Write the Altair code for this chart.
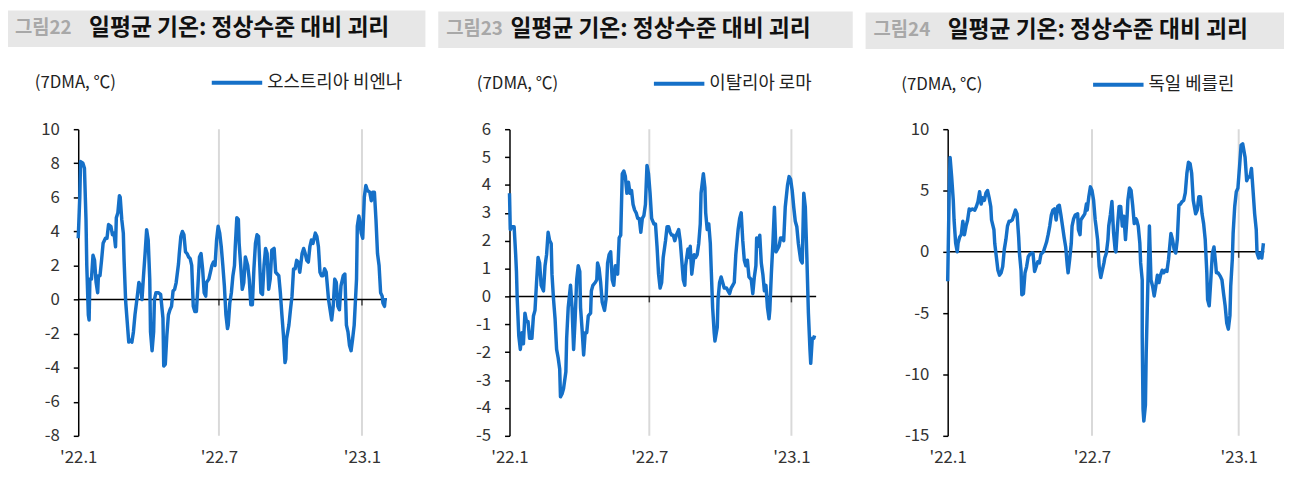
import altair as alt
import pandas as pd

FONT = "Noto Sans CJK KR"
BLUE = "#1570C8"

# ---------------- data (day offset from 2022-01-01, 7DMA anomaly in °C) ----------------
days_vienna = [0, 2, 3, 6, 8, 10, 11, 13, 14, 15, 17, 19, 21, 23, 25, 26, 28, 30, 32, 35, 37, 39, 42, 44,
               46, 48, 49, 51, 53, 54, 56, 58, 59, 61, 63, 65, 67, 69, 71, 73, 76, 78, 80, 82, 84, 86, 88,
               90, 92, 93, 95, 97, 98, 100, 103, 106, 109, 110, 112, 114, 116, 118, 120, 122, 124, 126, 129,
               130, 132, 134, 136, 138, 140, 142, 144, 146, 148, 150, 152, 154, 156, 158, 160, 162, 164, 165,
               168, 170, 172, 174, 176, 178, 180, 182, 184, 186, 188, 190, 192, 193, 195, 197, 199, 201, 202,
               204, 206, 207, 209, 211, 213, 215, 218, 220, 222, 224, 226, 228, 230, 232, 235, 237, 239, 241,
               243, 245, 247, 249, 252, 254, 256, 258, 260, 262, 264, 266, 267, 268, 271, 273, 275, 277, 279,
               281, 283, 285, 288, 290, 292, 294, 296, 298, 300, 302, 305, 307, 309, 311, 313, 315, 317, 319,
               322, 324, 326, 328, 330, 332, 334, 336, 338, 341, 343, 345, 347, 349, 351, 353, 355, 358, 359,
               361, 362, 364, 366, 368, 370, 372, 375, 377, 379, 381, 383, 385, 387, 389, 391, 392, 394, 395]
vals_vienna = [3.6, 6.0, 8.1, 8.0, 7.7, 4.7, 2.0, -0.9, -1.2, 1.2, 1.2, 2.6, 2.3, 1.0, 0.4, 1.4, 1.4, 2.3,
               3.3, 3.6, 3.6, 4.4, 4.3, 3.8, 3.9, 3.1, 4.8, 5.1, 6.1, 6.0, 4.7, 3.9, 2.3, -0.1, -1.3, -2.5,
               -2.4, -2.5, -1.9, -0.9, 0.2, 1.0, 0.8, 0.0, 1.4, 2.7, 4.1, 3.5, 1.2, -1.9, -3.0, -1.9, 0.0,
               0.4, 0.4, 0.3, -1.1, -3.9, -3.8, -2.1, -0.9, -0.6, -0.4, 0.5, 0.6, 1.0, 2.1, 2.7, 3.7, 4.0,
               3.8, 2.8, 2.7, 2.5, 2.4, 2.0, -0.4, -0.7, -0.7, 0.8, 2.5, 2.7, 1.8, 0.4, 0.2, 1.0, 1.2, 1.6,
               2.0, 2.2, 2.0, 3.5, 4.3, 3.9, 3.1, 2.0, 0.8, -0.9, -1.7, -1.5, -0.2, 0.4, 1.4, 2.0, 3.1, 4.8,
               4.7, 3.3, 2.0, 0.6, 1.0, 2.5, 2.0, 1.2, -0.3, -0.3, 1.8, 3.3, 3.8, 3.7, 0.4, 0.3, 2.0, 3.0,
               2.7, 0.6, 1.2, 2.9, 3.0, 1.6, 1.5, 1.4, 0.4, -0.9, -2.1, -3.7, -3.5, -2.3, -1.5, -0.6, 0.2,
               1.8, 1.8, 2.3, 2.2, 1.6, 2.7, 3.0, 2.7, 2.3, 2.2, 3.1, 3.5, 3.3, 3.9, 3.7, 3.1, 1.6, 1.4, 1.4,
               1.8, 1.6, 0.0, -0.6, -1.2, -0.4, 1.2, 1.0, -0.4, -0.6, 0.8, 1.4, 1.5, -1.5, -1.9, -2.7, -3.0,
               -2.3, -1.5, 1.2, 4.3, 4.9, 4.7, 3.9, 3.6, 6.0, 6.7, 6.4, 6.3, 5.8, 6.3, 6.3, 4.7, 2.7, 2.0,
               0.4, 0.2, -0.2, -0.4, 0.1]

days_rome = [0, 1, 3, 6, 8, 9, 10, 12, 14, 16, 18, 20, 22, 24, 26, 29, 31, 33, 35, 37, 39, 41, 44, 46, 48,
             50, 52, 54, 55, 57, 59, 61, 63, 65, 66, 68, 70, 73, 74, 76, 79, 81, 83, 85, 87, 89, 91, 92, 94,
             96, 98, 100, 102, 105, 106, 108, 111, 113, 114, 116, 118, 120, 123, 125, 127, 129, 131, 133, 135,
             137, 140, 142, 144, 146, 148, 150, 152, 154, 156, 158, 160, 162, 164, 166, 168, 170, 172, 174,
             176, 178, 180, 182, 184, 187, 189, 191, 193, 195, 197, 199, 202, 204, 206, 208, 210, 212, 214,
             216, 219, 221, 223, 225, 227, 228, 231, 233, 234, 236, 239, 241, 243, 245, 247, 248, 251, 253,
             254, 256, 258, 260, 261, 263, 265, 266, 269, 270, 272, 274, 276, 278, 281, 283, 285, 287, 289,
             291, 293, 296, 298, 300, 302, 304, 306, 308, 310, 313, 315, 317, 319, 320, 322, 324, 326, 328,
             330, 332, 334, 336, 337, 339, 341, 343, 345, 347, 349, 351, 353, 355, 357, 360, 362, 364, 366,
             368, 370, 372, 374, 377, 379, 381, 383, 385, 387, 389, 390, 392, 394, 395]
vals_rome = [3.7, 2.4, 2.5, 2.5, 1.5, 0.9, -0.1, -1.4, -1.9, -1.3, -1.7, -0.6, -0.9, -0.9, -1.5, -1.5, -0.7,
             -0.5, 0.5, 1.4, 1.2, 0.4, 0.2, 1.1, 1.5, 2.3, 2.0, 1.9, 0.8, -0.1, -0.8, -1.9, -2.2, -2.6, -3.6,
             -3.5, -3.3, -2.7, -1.5, -0.4, 0.4, -0.4, -1.9, -0.8, 0.6, 1.1, 0.9, -0.4, -1.2, -2.1, -1.3, -1.3,
             -0.7, -0.6, 0.2, 0.4, 0.5, 0.6, 1.2, 1.0, 0.5, -0.2, -0.5, -0.1, 1.2, 1.5, 1.6, 0.6, 0.4, 1.1,
             0.8, 2.1, 2.2, 4.4, 4.5, 4.3, 3.7, 4.1, 3.7, 3.8, 3.3, 3.1, 3.0, 2.8, 2.8, 2.3, 2.8, 2.9, 3.3,
             4.7, 4.4, 3.7, 2.8, 2.6, 2.6, 1.8, 0.8, 0.3, 0.5, 1.4, 2.0, 2.5, 2.5, 2.3, 2.2, 2.2, 2.0, 2.2,
             2.4, 2.0, 1.3, 0.6, 0.4, 1.1, 1.7, 1.4, 1.8, 0.8, 1.5, 1.4, 1.5, 1.9, 2.6, 3.7, 4.4, 3.9, 3.0,
             2.4, 2.6, 1.9, 1.1, -0.4, -1.3, -1.6, -1.1, -0.1, 0.5, 0.7, 0.5, 0.3, 0.3, 0.2, 0.1, 0.3, 0.4,
             0.5, 1.5, 2.4, 2.8, 3.0, 2.0, 1.3, 1.1, 1.3, 0.7, 0.6, 0.1, 0.7, 1.1, 2.1, 1.8, 2.2, 1.2, 0.8,
             0.2, 0.4, -0.4, -0.8, -0.5, 0.8, 1.9, 3.2, 1.6, 1.7, 1.8, 2.1, 2.1, 2.0, 3.2, 4.0, 4.3, 4.2,
             3.8, 3.2, 2.7, 2.5, 1.9, 1.3, 1.2, 3.7, 3.2, 1.4, -0.6, -1.9, -2.4, -1.5, -1.5, -1.4]

days_berlin = [0, 2, 3, 5, 7, 8, 10, 12, 13, 15, 17, 19, 21, 23, 25, 27, 29, 31, 34, 36, 38, 40, 42, 44, 46,
               48, 50, 52, 54, 55, 58, 59, 61, 63, 65, 67, 69, 71, 73, 75, 77, 79, 81, 83, 85, 87, 89, 90, 92,
               93, 95, 97, 99, 101, 103, 105, 107, 109, 111, 113, 115, 117, 120, 122, 124, 126, 128, 130, 132,
               134, 136, 138, 140, 142, 144, 146, 148, 150, 151, 153, 155, 156, 158, 160, 163, 164, 166, 167,
               170, 172, 174, 175, 177, 179, 181, 183, 185, 186, 188, 190, 192, 194, 196, 197, 199, 201, 202,
               204, 206, 208, 210, 211, 213, 215, 217, 219, 221, 223, 225, 226, 228, 230, 232, 234, 236, 237,
               239, 241, 242, 244, 244, 245, 246, 248, 249, 251, 253, 255, 257, 259, 261, 263, 265, 267, 269,
               271, 273, 275, 277, 280, 282, 284, 286, 288, 290, 292, 294, 296, 298, 300, 302, 304, 306, 308,
               311, 313, 315, 317, 319, 321, 323, 325, 326, 328, 330, 332, 334, 336, 337, 339, 342, 344, 346,
               348, 350, 352, 354, 355, 357, 358, 360, 362, 364, 366, 368, 370, 373, 375, 377, 379, 381, 383,
               385, 387, 388, 390, 392, 394, 396]
vals_berlin = [-2.4, 5.3, 7.7, 6.1, 4.2, 2.6, 0.7, 0.0, 0.7, 1.2, 1.4, 2.5, 1.4, 2.1, 2.6, 3.5, 3.4, 3.5, 3.4,
               3.7, 4.1, 4.9, 3.9, 4.4, 4.2, 4.8, 5.0, 4.4, 3.7, 2.6, 1.8, 0.7, -0.4, -1.5, -1.9, -1.7, -1.2,
               0.2, 1.0, 2.1, 2.5, 2.5, 2.6, 3.0, 3.4, 3.1, 1.2, -0.1, -1.5, -3.5, -3.4, -1.7, -1.2, -0.4,
               -0.2, -0.1, -0.1, -1.6, -1.2, -0.8, -0.9, -0.2, 0.0, 0.4, 0.8, 1.4, 2.1, 3.0, 3.4, 3.5, 2.6,
               3.7, 3.8, 3.0, 2.1, 1.2, 0.4, -1.1, -1.7, -0.6, 0.7, 2.1, 2.7, 3.0, 3.1, 1.8, 1.4, 2.6, 2.9,
               3.1, 3.9, 3.4, 4.5, 5.3, 5.0, 4.2, 2.6, 2.1, 1.0, -1.2, -2.1, -1.5, -0.9, -0.5, -0.1, 1.0, 2.1,
               3.0, 4.1, 1.6, 0.2, 0.0, 2.1, 3.7, 3.7, 2.1, 2.9, 1.0, 2.9, 4.2, 5.2, 5.0, 3.8, 2.3, 2.7, 2.6,
               2.1, 0.7, -0.9, -2.3, -6.9, -12.8, -13.8, -12.5, -8.2, -2.8, 2.1, -2.3, -2.8, -3.6, -2.8,
               -1.9, -2.5, -1.9, -1.5, -1.7, -1.5, -1.6, -0.6, 1.5, 1.0, 0.2, -0.1, 1.0, 3.8, 3.9, 4.1, 4.2,
               4.8, 6.4, 7.3, 7.2, 6.4, 4.2, 3.1, 3.4, 4.5, 4.5, 3.1, 2.3, 1.0, -1.7, -3.9, -4.4, -2.3, -0.1,
               0.4, -0.9, -1.7, -1.7, -2.0, -2.3, -3.4, -4.4, -5.8, -6.3, -5.2, -2.8, -0.6, 1.5, 3.7, 4.9,
               5.2, 6.9, 8.7, 8.8, 7.7, 5.8, 6.1, 6.1, 6.8, 5.0, 3.1, 1.8, -0.1, -0.5, -0.1, -0.5, 0.7]

fig_numbers = ["그림22", "그림23", "그림24"]
fig_title = "일평균 기온: 정상수준 대비 괴리"
unit_label = "(7DMA, ℃)"
series_names = ["오스트리아 비엔나", "이탈리아 로마", "독일 베를린"]
x_tick_dates = ["2022-01-01", "2022-07-01", "2023-01-01"]
y_ticks = [[10, 8, 6, 4, 2, 0, -2, -4, -6, -8],
           [6, 5, 4, 3, 2, 1, 0, -1, -2, -3, -4, -5],
           [10, 5, 0, -5, -10, -15]]
y_domains = [[-8, 10], [-5, 6], [-15, 10]]

base_date = pd.Timestamp("2022-01-01")
one = pd.DataFrame({"k": [0]})


def to_frame(days, vals):
    return pd.DataFrame({
        "date": [(base_date + pd.Timedelta(days=int(d))).strftime("%Y-%m-%d") for d in days],
        "v": vals,
    })


def panel(days, vals, idx, width, lay):
    df = to_frame(days, vals)
    x_dom = [alt.DateTime(year=2022, month=1, date=1), alt.DateTime(year=2023, month=2, date=2)]
    xscale = alt.Scale(domain=x_dom)
    yscale = alt.Scale(domain=y_domains[idx], nice=False, zero=False)
    grid_df = pd.DataFrame({"date": x_tick_dates[1:], "v": [0, 0]})
    zero_df = pd.DataFrame({"v": [0]})

    x_axis = alt.Axis(values=[alt.DateTime(year=2022, month=1, date=1),
                              alt.DateTime(year=2022, month=7, date=1),
                              alt.DateTime(year=2023, month=1, date=1)],
                      labelExpr="\"'\" + timeFormat(datum.value, '%y.%-m')",
                      domain=False, ticks=False, grid=False, labelFlush=False,
                      labelOverlap=False, labelFont=FONT, labelFontSize=17,
                      labelColor="#333333", labelPadding=14, title=None)
    y_axis = alt.Axis(values=y_ticks[idx], grid=False, domainColor="black",
                      domainWidth=1.5, tickColor="black", tickWidth=1.5, tickSize=5,
                      labelPadding=14, labelFont=FONT, labelFontSize=17,
                      labelExpr="'' + datum.value",
                      labelColor="#333333", labelOverlap=False, title=None)
    X = alt.X("date:T", scale=xscale, axis=x_axis, title=None)
    Y = alt.Y("v:Q", scale=yscale, axis=y_axis, title=None)

    header = alt.Chart(one).mark_rect(color="#e7e7e7").encode(
        x=alt.value(lay["hx"]), x2=alt.value(lay["hx2"]),
        y=alt.value(lay["hy"]), y2=alt.value(lay["hy"] + 37))
    fig_no = alt.Chart(one).mark_text(
        text=fig_numbers[idx], font=FONT, fontSize=19, fontWeight="bold", color="#a8a8a8",
        align="left", baseline="middle").encode(x=alt.value(lay["nx"]), y=alt.value(lay["hy"] + 18))
    title = alt.Chart(one).mark_text(
        text=fig_title, font=FONT, fontSize=23, fontWeight="bold", color="#111111",
        align="left", baseline="middle").encode(x=alt.value(lay["tx"]), y=alt.value(lay["hy"] + 18))
    unit = alt.Chart(one).mark_text(
        text=unit_label, font=FONT, fontSize=17, color="#222222",
        align="left", baseline="middle").encode(x=alt.value(lay["ux"]), y=alt.value(lay["ly"]))
    leg_line = alt.Chart(one).mark_rule(color=BLUE, strokeWidth=4).encode(
        x=alt.value(lay["lx"]), x2=alt.value(lay["lx"] + 51), y=alt.value(lay["ly"]))
    leg_text = alt.Chart(one).mark_text(
        text=series_names[idx], font=FONT, fontSize=18, color="#222222",
        align="left", baseline="middle").encode(x=alt.value(lay["lx"] + 56), y=alt.value(lay["ly"]))

    grid = alt.Chart(grid_df).mark_rule(color="#d9d9d9", strokeWidth=2).encode(x=X)
    zero = alt.Chart(zero_df).mark_rule(color="black", strokeWidth=1.5).encode(y=Y)
    ticks = alt.Chart(grid_df).mark_tick(orient="vertical", color="black", size=6,
                                         thickness=1.5, yOffset=3).encode(x=X, y=Y)
    line = alt.Chart(df).mark_line(color=BLUE, strokeWidth=3.5, strokeJoin="round").encode(x=X, y=Y)
    return alt.layer(header, fig_no, title, unit, leg_line, leg_text, grid, zero, ticks, line).properties(
        width=width, height=310)


p1 = panel(days_vienna, vals_vienna, 0, 312,
           dict(hx=-71, hx2=351, hy=-120, nx=-64, tx=11, ux=-44, lx=135, ly=-47))
p2 = panel(days_rome, vals_rome, 1, 310,
           dict(hx=-72, hx2=347, hy=-119, nx=-64, tx=1, ux=-33, lx=146, ly=-46))
p3 = panel(days_berlin, vals_berlin, 2, 320,
           dict(hx=-83, hx2=340, hy=-118, nx=-75, tx=0, ux=-47, lx=147, ly=-45))

chart = alt.hconcat(p1, p2, p3, spacing=13).properties(padding=0).configure_view(stroke=None)
chart.save("out.html", embed_options={"renderer": "svg", "actions": False})
